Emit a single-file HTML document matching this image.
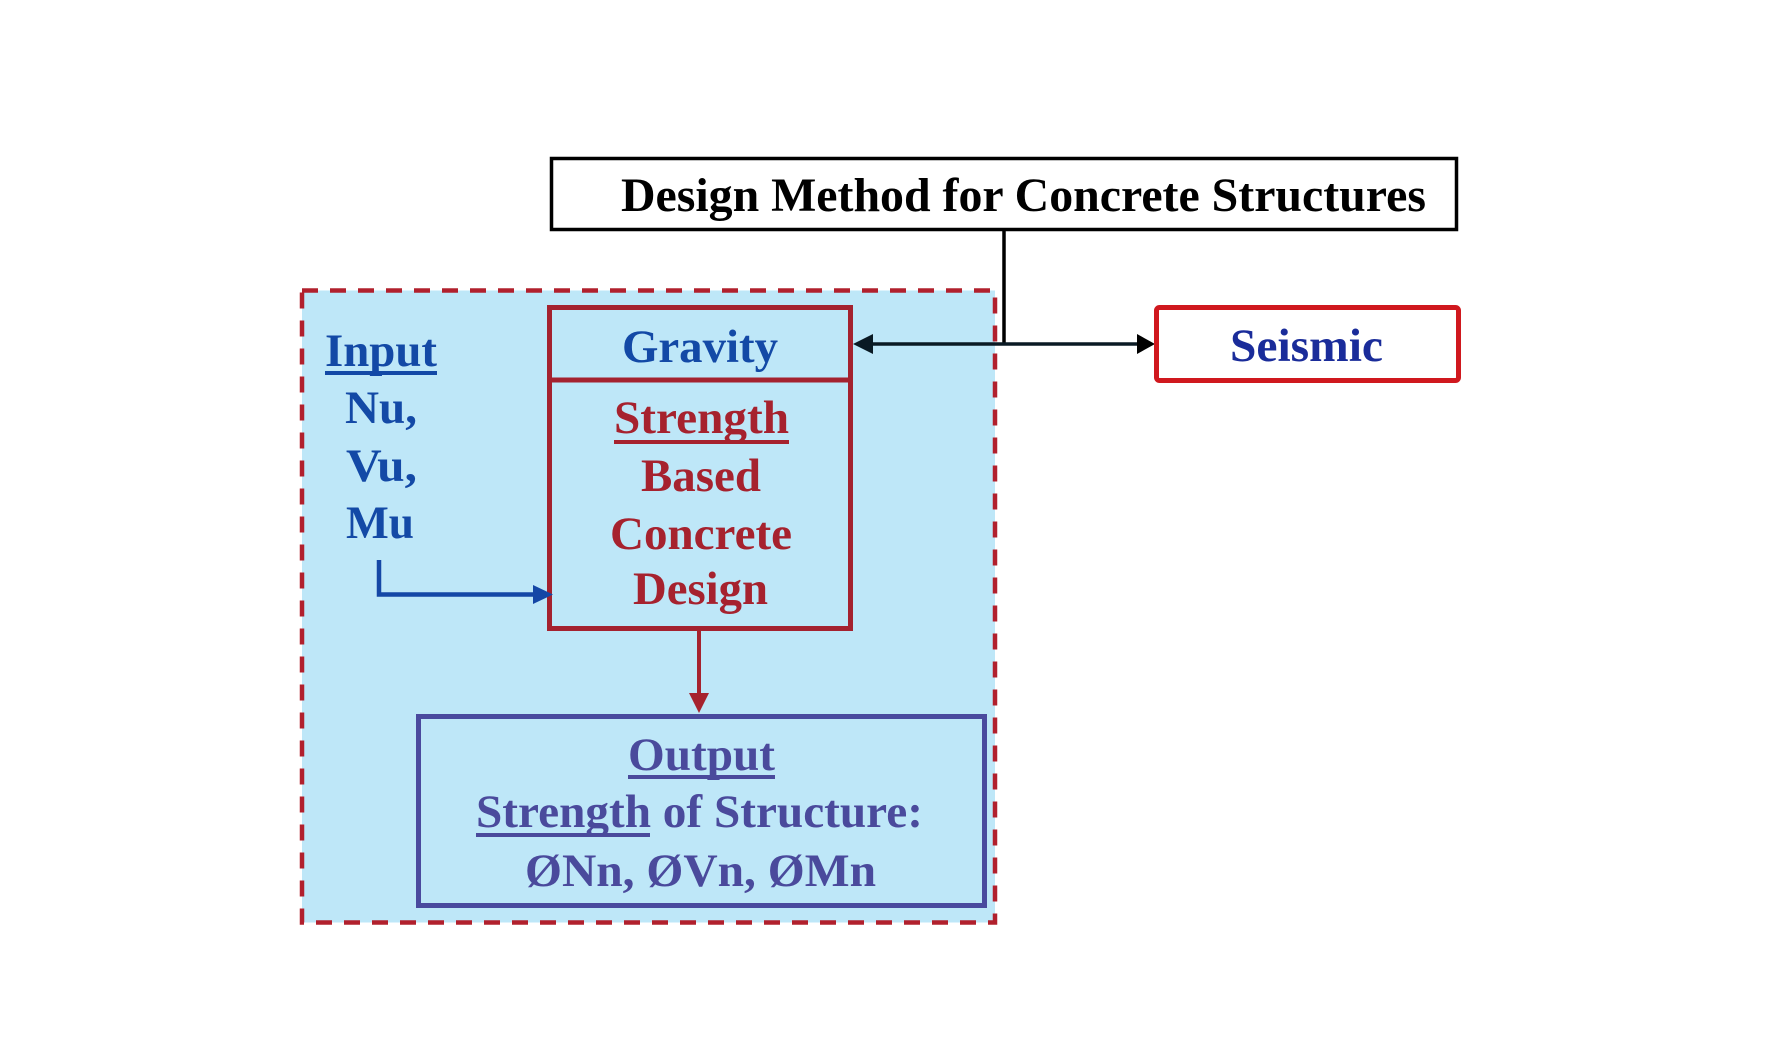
<!DOCTYPE html>
<html>
<head>
<meta charset="utf-8">
<style>
  html, body { margin: 0; padding: 0; background: #ffffff; }
  svg { display: block; }
  text { font-family: "Liberation Serif", "Times New Roman", serif; font-weight: bold; }
</style>
</head>
<body>
<svg width="1776" height="1062" viewBox="0 0 1776 1062" xmlns="http://www.w3.org/2000/svg">
  <rect x="0" y="0" width="1776" height="1062" fill="#ffffff"/>

  <!-- Dashed container -->
  <rect x="302" y="290.5" width="693" height="632" fill="#bee7f8" stroke="#b1202d" stroke-width="4.5" stroke-dasharray="16 12"/>

  <!-- Title box -->
  <rect x="551.5" y="158.5" width="905" height="71" fill="#ffffff" stroke="#000000" stroke-width="3.5"/>
  <text x="621" y="211" font-size="48" fill="#000000" textLength="805" lengthAdjust="spacingAndGlyphs">Design Method for Concrete Structures</text>

  <!-- Black connectors -->
  <line x1="1004" y1="230" x2="1004" y2="345.5" stroke="#000000" stroke-width="3.5"/>
  <line x1="868" y1="344" x2="1142" y2="344" stroke="#0a1a24" stroke-width="3.5"/>
  <polygon points="853,344 873,334 873,354" fill="#0a1a24"/>
  <polygon points="1155,344 1137,334 1137,354" fill="#000000"/>

  <!-- Gravity / Strength box -->
  <rect x="549.5" y="307.5" width="301" height="321" fill="none" stroke="#a4222f" stroke-width="5"/>
  <line x1="549" y1="380" x2="852" y2="380" stroke="#a4222f" stroke-width="5"/>
  <text x="622" y="362" font-size="47" fill="#1349a6" textLength="156" lengthAdjust="spacingAndGlyphs">Gravity</text>

  <text x="614" y="433" font-size="47" fill="#a6222e" textLength="175" lengthAdjust="spacingAndGlyphs">Strength</text>
  <rect x="614" y="440" width="175" height="4" fill="#a6222e"/>
  <text x="641" y="491" font-size="47" fill="#a6222e" textLength="120" lengthAdjust="spacingAndGlyphs">Based</text>
  <text x="610" y="549" font-size="47" fill="#a6222e" textLength="182" lengthAdjust="spacingAndGlyphs">Concrete</text>
  <text x="633" y="604" font-size="47" fill="#a6222e" textLength="135" lengthAdjust="spacingAndGlyphs">Design</text>

  <!-- Seismic box -->
  <rect x="1156.5" y="307.5" width="302" height="73" rx="3" fill="#ffffff" stroke="#d0181e" stroke-width="5"/>
  <text x="1230" y="361" font-size="47" fill="#1a2c9a" textLength="153" lengthAdjust="spacingAndGlyphs">Seismic</text>

  <!-- Input -->
  <text x="325" y="366" font-size="47" fill="#1349a6" textLength="112" lengthAdjust="spacingAndGlyphs">Input</text>
  <rect x="325" y="371" width="112" height="4" fill="#1349a6"/>
  <text x="345" y="423" font-size="47" fill="#1349a6" textLength="72" lengthAdjust="spacingAndGlyphs">Nu,</text>
  <text x="346" y="481" font-size="47" fill="#1349a6" textLength="71" lengthAdjust="spacingAndGlyphs">Vu,</text>
  <text x="346" y="538" font-size="47" fill="#1349a6" textLength="68" lengthAdjust="spacingAndGlyphs">Mu</text>

  <!-- Blue connector -->
  <polyline points="379,560 379,594.5 536,594.5" fill="none" stroke="#1447a6" stroke-width="4.5"/>
  <polygon points="553,594.5 533,585 533,604" fill="#1447a6"/>

  <!-- Red arrow down -->
  <line x1="699" y1="630" x2="699" y2="696" stroke="#a6222e" stroke-width="4"/>
  <polygon points="699,713 689,693 709,693" fill="#a6222e"/>

  <!-- Output box -->
  <rect x="418.5" y="716.5" width="566" height="189" fill="none" stroke="#4a4a9e" stroke-width="5"/>
  <text x="628" y="770" font-size="47" fill="#4a4a9c" textLength="147" lengthAdjust="spacingAndGlyphs">Output</text>
  <rect x="628" y="775" width="147" height="4" fill="#4a4a9c"/>
  <text x="476" y="827" font-size="47" fill="#4a4a9c" textLength="447" lengthAdjust="spacingAndGlyphs">Strength of Structure:</text>
  <rect x="476" y="833" width="174" height="4" fill="#4a4a9c"/>
  <text x="525" y="886" font-size="47" fill="#4a4a9c" textLength="351" lengthAdjust="spacingAndGlyphs">ØNn, ØVn, ØMn</text>
</svg>
</body>
</html>
